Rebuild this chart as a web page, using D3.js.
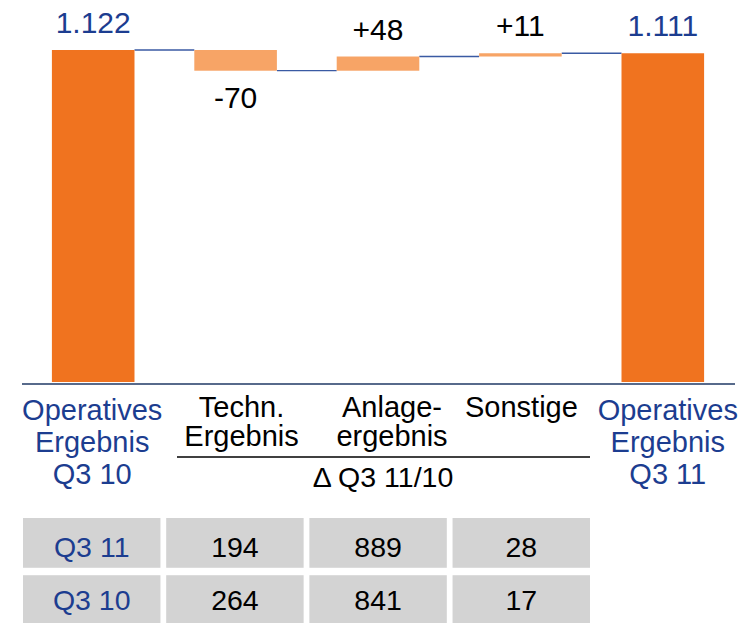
<!DOCTYPE html>
<html>
<head>
<meta charset="utf-8">
<script src="https://cdn.jsdelivr.net/npm/d3@7"></script>
<style>
  body { margin: 0; background: #fff; }
  svg { display: block; font-family: "Liberation Sans", Arial, sans-serif; }
</style>
</head>
<body>
<div id="chart"></div>
<script>
// waterfall data
const categories = ["Operatives Ergebnis Q3 10", "Techn. Ergebnis", "Anlageergebnis", "Sonstige", "Operatives Ergebnis Q3 11"];
const labelLines = [
    ["Operatives", "Ergebnis", "Q3 10"],
    ["Techn.", "Ergebnis"],
    ["Anlage-", "ergebnis"],
    ["Sonstige"],
    ["Operatives", "Ergebnis", "Q3 11"]
];
const kinds = ["total", "delta", "delta", "delta", "total"];
const values = [1122, -70, 48, 11, 1111];
const valueLabels = ["1.122", "-70", "+48", "+11", "1.111"];
const deltaCaption = "\u0394 Q3 11/10";

// table below the chart
const tableRows = ["Q3 11", "Q3 10"];
const tableQ311 = [194, 889, 28];
const tableQ310 = [264, 841, 17];

const blue = "#1c3d90";
const width = 749, height = 623;

let svg = d3.select("#chart")
    .append("svg")
    .attr("width", width)
    .attr("height", height);

// scales
let x = d3.scaleBand().domain(categories).range([22, 734]).paddingInner(0.42).paddingOuter(0.21);
let y = d3.scaleLinear().domain([0, 1122]).range([382, 50]);

// compute start / end for each bar
let running = 0;
const bars = categories.map((c, i) => {
    let start, end;
    if (kinds[i] === "total") {
        start = 0; end = values[i]; running = values[i];
    } else {
        start = running; end = running + values[i]; running = end;
    }
    return { cat: c, kind: kinds[i], value: values[i], start: start, end: end, label: valueLabels[i], lines: labelLines[i] };
});

// connector lines
for (let i = 0; i < bars.length - 1; i++) {
    let level = bars[i].end;
    svg.append("line")
        .attr("x1", x(bars[i].cat) + x.bandwidth())
        .attr("x2", x(bars[i + 1].cat))
        .attr("y1", y(level))
        .attr("y2", y(level))
        .attr("stroke", "#3a5aa3")
        .attr("stroke-width", 1.3);
}

// bars
svg.selectAll("rect.bar")
    .data(bars)
    .enter()
    .append("rect")
    .attr("class", "bar")
    .attr("x", d => x(d.cat))
    .attr("width", x.bandwidth())
    .attr("y", d => y(Math.max(d.start, d.end)))
    .attr("height", d => Math.abs(y(d.start) - y(d.end)))
    .attr("fill", d => d.kind === "total" ? "#f0731f" : "#f7a466");

// value labels
svg.selectAll("text.val")
    .data(bars)
    .enter()
    .append("text")
    .attr("class", "val")
    .attr("x", d => x(d.cat) + x.bandwidth() / 2)
    .attr("y", d => d.value < 0 ? y(d.end) + 37 : y(Math.max(d.start, d.end)) - 17)
    .attr("text-anchor", "middle")
    .attr("font-size", 30)
    .attr("fill", d => d.kind === "total" ? blue : "#000")
    .text(d => d.label);

// base line
svg.append("line")
    .attr("x1", 22).attr("x2", 735)
    .attr("y1", y(0) + 2).attr("y2", y(0) + 2)
    .attr("stroke", "#1f3864")
    .attr("stroke-width", 1.5);

// category labels
const labelShift = [-1, 6, 14, 1, 5];
bars.forEach((d, i) => {
    let isTotal = d.kind === "total";
    let t = svg.append("text")
        .attr("text-anchor", "middle")
        .attr("font-size", 29)
        .attr("fill", isTotal ? blue : "#000");
    d.lines.forEach((ln, j) => {
        t.append("tspan")
            .attr("x", x(d.cat) + x.bandwidth() / 2 + labelShift[i])
            .attr("y", (isTotal ? 420 : 417) + j * (isTotal ? 32 : 29))
            .text(ln);
    });
});

// delta bracket line + caption
svg.append("line")
    .attr("x1", 177).attr("x2", 590)
    .attr("y1", 457).attr("y2", 457)
    .attr("stroke", "#000")
    .attr("stroke-width", 1.5);
svg.append("text")
    .attr("x", 383)
    .attr("y", 487)
    .attr("text-anchor", "middle")
    .attr("font-size", 28.5)
    .attr("fill", "#000")
    .text(deltaCaption);

// table
const tableCols = ["row", "c1", "c2", "c3"];
let tx = d3.scaleBand().domain(tableCols).range([23, 590]).paddingInner(0.04);
let ty = d3.scaleBand().domain(tableRows).range([518, 625]).paddingInner(0.13);
const tableData = [
    [tableRows[0]].concat(tableQ311),
    [tableRows[1]].concat(tableQ310)
];
tableData.forEach((row, r) => {
    row.forEach((cell, c) => {
        svg.append("rect")
            .attr("x", tx(tableCols[c]))
            .attr("y", ty(tableRows[r]))
            .attr("width", tx.bandwidth())
            .attr("height", ty.bandwidth())
            .attr("fill", "#d3d3d3");
        svg.append("text")
            .attr("x", tx(tableCols[c]) + tx.bandwidth() / 2)
            .attr("y", ty(tableRows[r]) + 39 - r * 4)
            .attr("text-anchor", "middle")
            .attr("font-size", 28.5)
            .attr("fill", c === 0 ? blue : "#000")
            .text(cell);
    });
});
</script>
</body>
</html>
